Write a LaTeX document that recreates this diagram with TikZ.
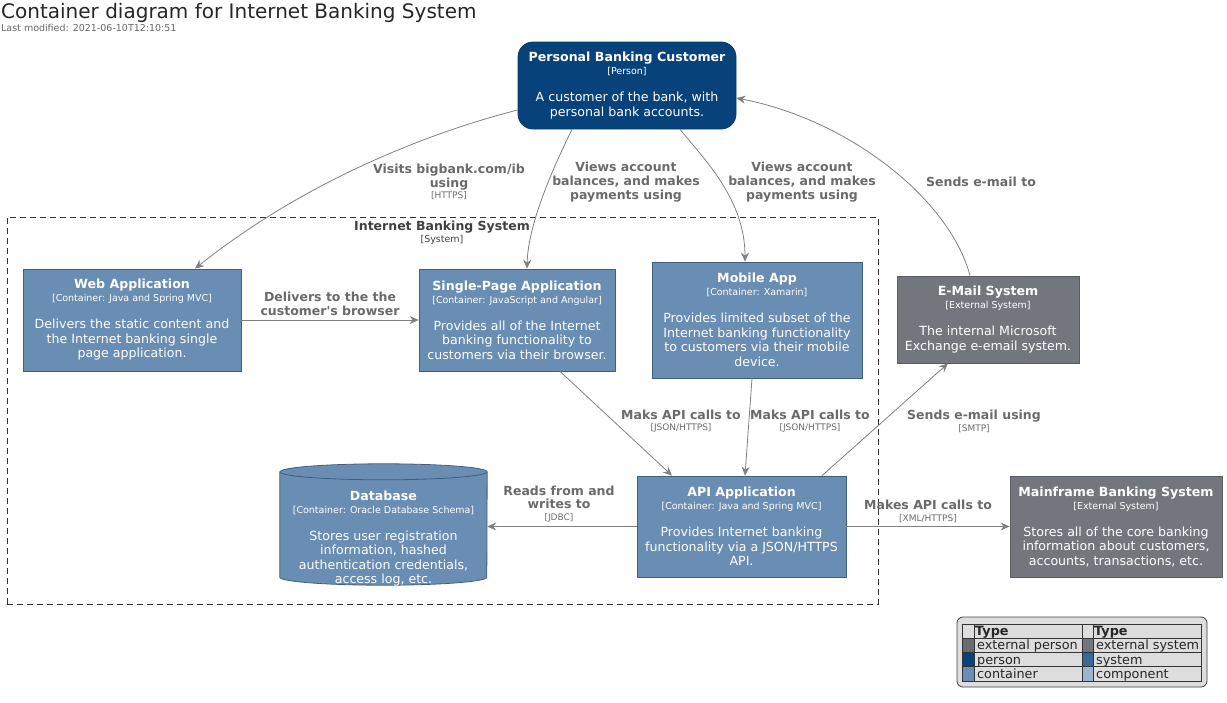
\documentclass[tikz,border=0pt]{standalone}
\usepackage{fontspec}
\setmainfont{DejaVu Sans}
\usetikzlibrary{arrows.meta}

\definecolor{personblue}{HTML}{08427B}
\definecolor{personborder}{HTML}{073A6C}
\definecolor{containerblue}{HTML}{6A8DB3}
\definecolor{containerborder}{HTML}{41607F}
\definecolor{extsystem}{HTML}{73777D}
\definecolor{extsystemborder}{HTML}{595D62}
\definecolor{extperson}{HTML}{686B71}
\definecolor{systemblue}{HTML}{3A6897}
\definecolor{componentblue}{HTML}{9CB4CE}
\definecolor{relgray}{HTML}{808080}
\definecolor{labelgray}{HTML}{6A6A6A}
\definecolor{legendfill}{HTML}{DDDDDD}

\newcommand{\elemtitle}[1]{{\fontsize{12.6}{14}\selectfont\bfseries #1}}
\newcommand{\elemtype}[1]{{\fontsize{9.5}{10}\selectfont #1}}

\tikzset{
  elem/.style={rectangle, align=center, text=white, line width=0.8pt,
    font=\fontsize{12.6}{14.5}\selectfont, inner sep=0pt},
  person/.style={elem, fill=personblue, draw=personborder, rounded corners=15pt},
  container/.style={elem, fill=containerblue, draw=containerborder},
  extsys/.style={elem, fill=extsystem, draw=extsystemborder},
  boundary/.style={draw=black!80, dash pattern=on 6pt off 4pt, line width=0.6pt},
  rel/.style={draw=relgray, line width=0.8pt, -{Stealth[length=9pt,width=8pt,inset=3pt]}},
  rellabel/.style={align=center, text=labelgray, inner sep=0pt,
    font=\fontsize{12.5}{13.7}\selectfont\bfseries},
  legendtext/.style={anchor=base west, inner sep=0pt, font=\fontsize{12.8}{13}\selectfont, text=black!85},
}
\newcommand{\reltech}[1]{{\fontsize{9}{10}\selectfont\mdseries #1}}

\begin{document}
\begin{tikzpicture}[x=1pt,y=1pt]
\useasboundingbox (0,0) rectangle (1227,-702);

% title
\node[anchor=north west, inner sep=0pt, font=\fontsize{20}{22}\selectfont, text=black!85] (title) at (1,-3) {Container diagram for Internet Banking System};
\node[anchor=north west, inner sep=0pt, font=\fontsize{9.5}{10}\selectfont, text=black!60] (modified) at (1,-24.5) {Last modified: 2021-06-10T12:10:51};

% system boundary
\node[boundary, minimum width=871pt, minimum height=387pt] (ibs) at (442.5,-410.5) {};
\node[align=center, inner sep=0pt, text=black!75, font=\fontsize{12.5}{13}\selectfont\bfseries] (ibslabel) at (442,-233) {Internet Banking System\\[-1pt]\elemtype{\mdseries[System]}};

% elements
\node[person, minimum width=218pt, minimum height=87pt] (customer) at (627,-85.5)
  {\elemtitle{Personal Banking Customer}\\[-1.5pt]\elemtype{[Person]}\\[12.5pt]A customer of the bank, with\\personal bank accounts.};
\node[container, minimum width=218pt, minimum height=102pt] (webapp) at (132,-320)
  {\elemtitle{Web Application}\\[-1.5pt]\elemtype{[Container: Java and Spring MVC]}\\[12.5pt]Delivers the static content and\\the Internet banking single\\page application.};
\node[container, minimum width=196pt, minimum height=102pt] (spa) at (517,-320)
  {\elemtitle{Single-Page Application}\\[-1.5pt]\elemtype{[Container: JavaScript and Angular]}\\[12.5pt]Provides all of the Internet\\banking functionality to\\customers via their browser.};
\node[container, minimum width=210pt, minimum height=116pt] (mobile) at (757,-320)
  {\elemtitle{Mobile App}\\[-1.5pt]\elemtype{[Container: Xamarin]}\\[12.5pt]Provides limited subset of the\\Internet banking functionality\\to customers via their mobile\\device.};
\node[extsys, minimum width=182pt, minimum height=87pt] (email) at (988,-319.5)
  {\elemtitle{E-Mail System}\\[-1.5pt]\elemtype{[External System]}\\[12.5pt]The internal Microsoft\\Exchange e-email system.};
\node[container, minimum width=209pt, minimum height=101pt] (api) at (741.5,-526.5)
  {\elemtitle{API Application}\\[-1.5pt]\elemtype{[Container: Java and Spring MVC]}\\[12.5pt]Provides Internet banking\\functionality via a JSON/HTTPS\\API.};
\node[extsys, minimum width=212pt, minimum height=101pt] (mainframe) at (1116,-526.5)
  {\elemtitle{Mainframe Banking System}\\[-1.5pt]\elemtype{[External System]}\\[12.5pt]Stores all of the core banking\\information about customers,\\accounts, transactions, etc.};

% database cylinder
\node[minimum width=207pt, minimum height=121pt, inner sep=0pt] (db) at (383.5,-524.5) {};
\draw[fill=containerblue, draw=containerborder, line width=0.8pt] ([yshift=-8pt]db.north west) -- ([yshift=8pt]db.south west)
  arc[start angle=180, end angle=360, x radius=103.5pt, y radius=8pt] -- ([yshift=-8pt]db.north east)
  arc[start angle=0, end angle=180, x radius=103.5pt, y radius=8pt] -- cycle;
\draw[draw=containerborder, line width=0.8pt] ([yshift=-8pt]db.north west) arc[start angle=180, end angle=360, x radius=103.5pt, y radius=8pt];
\node[elem] (dbtext) at ([yshift=-14pt]db.center)
  {\elemtitle{Database}\\[-1.5pt]\elemtype{[Container: Oracle Database Schema]}\\[12.5pt]Stores user registration\\information, hashed\\authentication credentials,\\access log, etc.};

% relations
\draw[rel] ([yshift=-24.5pt]customer.west) .. controls (420,-135) and (300,-185) .. ([xshift=63pt]webapp.north);
\draw[rel] ([xshift=-55pt]customer.south) .. controls (552,-170) and (528,-225) .. ([xshift=10pt]spa.north);
\draw[rel] ([xshift=53pt]customer.south) .. controls (705,-160) and (745,-200) .. ([xshift=-12pt]mobile.north);
\draw[rel] ([xshift=-18pt]email.north) .. controls (950,-200) and (850,-120) .. ([yshift=-12.5pt]customer.east);
\draw[rel] (webapp.east) -- (spa.west);
\draw[rel] ([xshift=43pt]spa.south) -- ([xshift=-69.5pt]api.north);
\draw[rel] ([xshift=-5pt]mobile.south) -- ([xshift=3.5pt]api.north);
\draw[rel] ([xshift=80.5pt]api.north) -- ([xshift=-40pt]email.south);
\draw[rel] (api.west) -- (api.west -| db.east);
\draw[rel] (api.east) -- (mainframe.west);

% relation labels
\node[rellabel] (l1) at (449,-182) {Visits bigbank.com/ib\\using\\[-2pt]\reltech{[HTTPS]}};
\node[rellabel] (l2) at (626,-182) {Views account\\balances, and makes\\payments using};
\node[rellabel] (l3) at (802,-182) {Views account\\balances, and makes\\payments using};
\node[rellabel] (l4) at (981,-182) {Sends e-mail to};
\node[rellabel] (l5) at (330,-304) {Delivers to the the\\customer\textquotesingle s browser};
\node[rellabel] (l6) at (681,-421) {Maks API calls to\\[-2pt]\reltech{[JSON/HTTPS]}};
\node[rellabel] (l7) at (810,-421) {Maks API calls to\\[-2pt]\reltech{[JSON/HTTPS]}};
\node[rellabel] (l8) at (974,-421) {Sends e-mail using\\[-2pt]\reltech{[SMTP]}};
\node[rellabel] (l9) at (559,-504) {Reads from and\\writes to\\[-2pt]\reltech{[JDBC]}};
\node[rellabel] (l10) at (928,-511) {Makes API calls to\\[-2pt]\reltech{[XML/HTTPS]}};

% legend
\node[draw=black!75, fill=legendfill, rounded corners=6pt, line width=0.8pt, minimum width=250pt, minimum height=70pt] (legend) at (1082,-652) {};
\foreach \row/\ca/\ta/\cb/\tb in {1/extperson/external person/extsystem/external system,
                                 2/personblue/person/systemblue/system,
                                 3/containerblue/container/componentblue/component}{
  \fill[\ca] (962,{-624-14.25*\row}) rectangle ++(12,-14.25);
  \fill[\cb] (1082,{-624-14.25*\row}) rectangle ++(11,-14.25);
  \node[legendtext] at (977,{-635.5-14.25*\row}) {\ta};
  \node[legendtext] at (1096,{-635.5-14.25*\row}) {\tb};
}
\node[legendtext, font=\fontsize{12.8}{13}\selectfont\bfseries] at (975,-635.5) {Type};
\node[legendtext, font=\fontsize{12.8}{13}\selectfont\bfseries] at (1094,-635.5) {Type};
\draw[black!80, line width=0.8pt] (962,-624) rectangle (1201,-681);
\foreach \y in {638.25,652.5,666.75}{\draw[black!80, line width=0.8pt] (962,-\y) -- (1201,-\y);}
\foreach \x in {974,1082,1093}{\draw[black!80, line width=0.8pt] (\x,-624) -- (\x,-681);}
\end{tikzpicture}
\end{document}
